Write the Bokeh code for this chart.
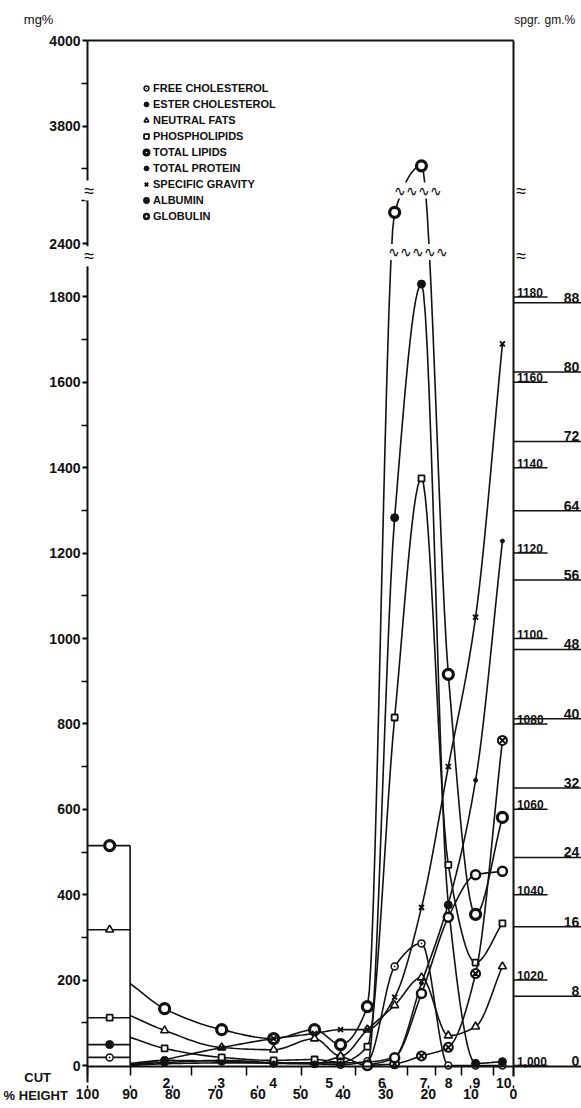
import numpy as np
from bokeh.plotting import figure
from bokeh.models import (Range1d, LinearAxis, FixedTicker, Label, Legend, LegendItem)
from bokeh.embed import file_html
from bokeh.resources import INLINE
from bokeh.core.properties import value

FONT = "Liberation Sans"
INK = "#111111"

# ---------------- data ----------------
# x positions (% height) of the samples: cut 1 (box) then the points of the later cuts
cut_pts = [94.8, 81.9, 68.5, 56.3, 46.7, 40.6, 34.3, 27.9, 21.6, 15.3, 8.9, 2.6]
box_edge = 90  # right side of cut-1 box (% height)
cut_bounds = [100, 90, 75.6, 62.6, 49.8, 37.0, 24.8, 18.3, 12.2, 4.8, 0]
cut_label_pos = [81.5, 68.6, 56.4, 43.3, 30.9, 21.1, 15.2, 8.7, 2.3]
cut_labels = ["2", "3", "4", "5", "6", "7", "8", "9", "10"]
height_ticks = [100, 90, 80, 70, 60, 50, 40, 30, 20, 10, 0]

# lipids, mg%  (first value = cut-1 box level)
free_chol = [19, 7, 12, 7, 4, 2, 10, 232, 286, 0, 0, 0]
ester_chol = [49, 12, 10, 5, 4, 19, 0, 1283, 1830, 376, 5, 9]
neutral_fats = [318, 82, 42, 37, 63, 22, 84, 141, 206, 70, 91, 232]
phospholipids = [112, 40, 19, 12, 14, 8, 44, 815, 1375, 470, 241, 333]
total_lipids = [515, 133, 84, 63, 84, 49, 138, 2473, 3707, 916, 354, 581]
# values where the curves leave the box edge
free_chol_edge = 3
ester_chol_edge = 5
neutral_fats_edge = 117
phospholipids_edge = 66
total_lipids_edge = 192

# proteins (gm%) and specific gravity, None = not drawn
total_protein = [None, 0.2, 0.3, 0.3, 0.3, 0.3, 0.4, 1.0, 9.5, 18.7, 32.9, 60.5]
albumin = [None, None, None, None, None, None, 0.0, 0.2, 1.1, 2.1, 10.6, 37.5]
globulin = [None, None, None, None, None, None, 0.0, 0.9, 8.3, 17.1, 22.0, 22.4]
spec_grav = [None, 1.0014, 1.0042, 1.0063, 1.0075, 1.0084, 1.0084, 1.016, 1.037, 1.070, 1.105, 1.169]
spec_grav_edge = 1.000
total_protein_edge = 0.0

# axes
left_tick_vals = [0, 200, 400, 600, 800, 1000, 1200, 1400, 1600, 1800, 2400, 3800, 4000]
left_minor_vals = [100, 300, 500, 700, 900, 1100, 1300, 1500, 1700, 2500, 3700, 3900]
sg_ticks = [1.000, 1.020, 1.040, 1.060, 1.080, 1.100, 1.120, 1.140, 1.160, 1.180]
sg_labels = ["1,000", "1020", "1040", "1060", "1080", "1100", "1120", "1140", "1160", "1180"]
gm_ticks = [0, 8, 16, 24, 32, 40, 48, 56, 64, 72, 80, 88]
gm_labels = [str(t) for t in gm_ticks]
mg_breaks = [1880, 2524]   # values at the two axis breaks (lower / upper section)

legend_labels = ["FREE CHOLESTEROL", "ESTER CHOLESTEROL", "NEUTRAL FATS", "PHOSPHOLIPIDS",
                 "TOTAL LIPIDS", "TOTAL PROTEIN", "SPECIFIC GRAVITY", "ALBUMIN", "GLOBULIN"]


# broken mg% scale -> plotting units
def mg_to_u(v):
    if v is None:
        return np.nan
    if v >= 3600:
        return v - 1600
    if v >= 2300:
        return v - 475
    return v


def arr(vals):
    return np.array([np.nan if v is None else v for v in vals], dtype=float)


def smooth(xs, ys, per=14):
    """Monotone (Fritsch-Carlson) cubic drawn through the measured points."""
    x = np.asarray(xs, float)
    y = np.asarray(ys, float)
    ok = ~np.isnan(y)
    x, y = x[ok], y[ok]
    o = np.argsort(x)
    x, y = x[o], y[o]
    n = len(x)
    if n < 3:
        return x, y
    h = np.diff(x)
    d = np.diff(y) / h
    m = np.zeros(n)
    for k in range(1, n - 1):
        if d[k - 1] * d[k] > 0:
            w1 = 2 * h[k] + h[k - 1]
            w2 = h[k] + 2 * h[k - 1]
            m[k] = (w1 + w2) / (w1 / d[k - 1] + w2 / d[k])
    m[0], m[-1] = d[0], d[-1]
    t = np.linspace(0, 1, per, endpoint=False)
    h00 = 2 * t**3 - 3 * t**2 + 1
    h10 = t**3 - 2 * t**2 + t
    h01 = -2 * t**3 + 3 * t**2
    h11 = t**3 - t**2
    xs_out, ys_out = [], []
    for k in range(n - 1):
        xs_out.append(x[k] + t * h[k])
        ys_out.append(h00 * y[k] + h10 * h[k] * m[k] + h01 * y[k + 1] + h11 * h[k] * m[k + 1])
    xs_out.append([x[-1]])
    ys_out.append([y[-1]])
    return np.concatenate(xs_out), np.concatenate(ys_out)


# ---------------- layout (frame fills the canvas; axes sit at fixed places) ----------------
W, H = 581, 1108
PX_X = 4.26                  # px per % height
PX_Y = 0.427                 # px per plotting unit
AX_LEFT = 87                 # canvas x of the 100 % line
AX_BASE = 1065               # canvas y of zero
X0 = 100 + AX_LEFT / PX_X
X1 = 100 - (W - AX_LEFT) / PX_X
Y0 = -(H - AX_BASE) / PX_Y
Y1 = AX_BASE / PX_Y
U_TOP = mg_to_u(4000)
GM_PER_U = 20.3
SG_PER_U = 10000.0

p = figure(width=W, height=H, output_backend="svg", toolbar_location=None,
           x_range=Range1d(X0, X1), y_range=Range1d(Y0, Y1),
           x_axis_location=None, y_axis_location=None,
           min_border=0, min_border_left=0, min_border_right=0, min_border_top=0, min_border_bottom=0)
p.outline_line_color = None
p.grid.visible = False
p.background_fill_color = "white"
p.border_fill_color = "white"
p.extra_y_ranges = {
    "gm": Range1d(Y0 / GM_PER_U, Y1 / GM_PER_U),
    "sg": Range1d(1 + Y0 / SG_PER_U, 1 + Y1 / SG_PER_U),
}


def style_labels(ax, size="14px"):
    ax.major_label_text_font = FONT
    ax.major_label_text_font_style = "bold"
    ax.major_label_text_font_size = size
    ax.major_label_text_color = INK


# left axis (mg%)
left_u = [mg_to_u(v) for v in left_tick_vals]
yax = LinearAxis(fixed_location=100, bounds=(-40, U_TOP),
                 ticker=FixedTicker(ticks=left_u, minor_ticks=[mg_to_u(v) for v in left_minor_vals]),
                 major_label_overrides={u: str(v) for u, v in zip(left_u, left_tick_vals)})
yax.axis_line_width = 2
yax.axis_line_color = INK
yax.major_tick_out = 5
yax.major_tick_in = 0
yax.minor_tick_out = 6
yax.minor_tick_in = 0
yax.major_tick_line_width = 2
yax.minor_tick_line_width = 1.5
yax.major_label_standoff = 1
style_labels(yax)
p.add_layout(yax, "left")

# right axis line (no ticks) and top border
rax = LinearAxis(fixed_location=0, bounds=(-25, U_TOP), ticker=FixedTicker(ticks=[]))
rax.axis_line_width = 2
rax.axis_line_color = INK
rax.major_tick_line_color = None
rax.minor_tick_line_color = None
p.add_layout(rax, "right")
tax = LinearAxis(fixed_location=U_TOP, bounds=(0, 100), ticker=FixedTicker(ticks=[]))
tax.axis_line_width = 2
tax.axis_line_color = INK
tax.major_tick_line_color = None
tax.minor_tick_line_color = None
p.add_layout(tax, "above")

# bottom axes: cut numbers, then % height
ax_cut = LinearAxis(fixed_location=-2, bounds=(X1, 100),
                    ticker=FixedTicker(ticks=cut_label_pos, minor_ticks=cut_bounds),
                    major_label_overrides=dict(zip(cut_label_pos, cut_labels)))
ax_cut.axis_line_width = 2
ax_cut.axis_line_color = INK
ax_cut.major_tick_out = 0
ax_cut.major_tick_in = 0
ax_cut.minor_tick_out = 9
ax_cut.minor_tick_in = 0
ax_cut.minor_tick_line_width = 1.5
ax_cut.major_label_standoff = 3
style_labels(ax_cut)
p.add_layout(ax_cut, "below")

ax_h = LinearAxis(fixed_location=-47, bounds=(0, 100),
                  ticker=FixedTicker(ticks=height_ticks, minor_ticks=[]),
                  major_label_overrides={t: str(t) for t in height_ticks})
ax_h.axis_line_color = None
ax_h.major_tick_out = 3
ax_h.major_tick_in = 0
ax_h.major_tick_line_width = 1.5
ax_h.major_label_standoff = 0
style_labels(ax_h)
p.add_layout(ax_h, "below")

# right side scales (spgr and gm%) drawn with their own ranges
p.segment(x0=0, x1=-8, y0=sg_ticks, y1=sg_ticks, y_range_name="sg", line_color=INK, line_width=1.5)
p.text(x=-0.8, y=sg_ticks, text=sg_labels, y_range_name="sg", text_font=value(FONT),
       text_font_style="bold", text_font_size="12px", text_baseline="bottom", text_align="left",
       text_color=INK)
p.segment(x0=0, x1=X1, y0=gm_ticks[1:], y1=gm_ticks[1:], y_range_name="gm",
          line_color=INK, line_width=1.5)
p.text(x=X1 + 0.5, y=gm_ticks, text=gm_labels, y_range_name="gm", text_font=value(FONT),
       text_font_style="bold", text_font_size="14px", text_baseline="bottom", text_align="right",
       text_color=INK)

# ---------------- series ----------------
LW = 1.6
lipids = [
    (free_chol, free_chol_edge, dict(marker="circle_dot", size=7, fill_color="white", line_width=1.5)),
    (ester_chol, ester_chol_edge, dict(marker="circle", size=8, fill_color=INK, line_width=1)),
    (neutral_fats, neutral_fats_edge, dict(marker="triangle", size=8, fill_color="white", line_width=1.6)),
    (phospholipids, phospholipids_edge, dict(marker="square", size=6, fill_color="white", line_width=1.8)),
    (total_lipids, total_lipids_edge, dict(marker="circle", size=10, fill_color="white", line_width=3.2)),
]
renderers = []
for vals, edge, mk in lipids:
    u = [mg_to_u(v) for v in vals]
    p.segment(x0=[100], x1=[box_edge], y0=[u[0]], y1=[u[0]], line_color=INK, line_width=LW)
    cx, cy = smooth([box_edge] + cut_pts[1:], [mg_to_u(edge)] + u[1:])
    p.line(x=cx, y=cy, line_color=INK, line_width=LW)
    r = p.scatter(x=cut_pts, y=u, line_color=INK, **mk)
    renderers.append(r)

# box right edge
p.segment(x0=[box_edge], x1=[box_edge], y0=[0], y1=[mg_to_u(total_lipids[0])], line_color=INK, line_width=LW)

tp = arr(total_protein)
cx, cy = smooth([box_edge] + cut_pts[1:], np.concatenate([[total_protein_edge], tp[1:]]))
p.line(x=cx, y=cy, y_range_name="gm", line_color=INK, line_width=LW)
r_tp = p.scatter(x=cut_pts, y=tp, y_range_name="gm", marker="circle", size=4, fill_color=INK, line_color=INK)
sg = arr(spec_grav)
cx, cy = smooth([box_edge] + cut_pts[1:], np.concatenate([[spec_grav_edge], sg[1:]]))
p.line(x=cx, y=cy, y_range_name="sg", line_color=INK, line_width=LW)
r_sg = p.scatter(x=cut_pts, y=sg, y_range_name="sg", marker="x", size=7, line_width=2, line_color=INK)
alb = arr(albumin)
cx, cy = smooth(cut_pts, alb)
p.line(x=cx, y=cy, y_range_name="gm", line_color=INK, line_width=LW)
r_alb = p.scatter(x=cut_pts, y=alb, y_range_name="gm", marker="circle_x", size=9, line_width=2,
                  fill_color="white", line_color=INK)
glo = arr(globulin)
cx, cy = smooth(cut_pts, glo)
p.line(x=cx, y=cy, y_range_name="gm", line_color=INK, line_width=LW)
r_glo = p.scatter(x=cut_pts, y=glo, y_range_name="gm", marker="circle", size=9, line_width=2.5,
                  fill_color="white", line_color=INK)

renderers += [r_tp, r_sg, r_alb, r_glo]
legend = Legend(items=[LegendItem(label=legend_labels[i], renderers=[renderers[i]]) for i in range(9)],
                location=(140, 884), orientation="vertical")
legend.label_text_font = FONT
legend.label_text_font_style = "bold"
legend.label_text_font_size = "11px"
legend.label_text_color = INK
legend.label_height = 16
legend.glyph_height = 16
legend.glyph_width = 12
legend.label_standoff = 1
legend.spacing = 0
legend.padding = 0
legend.margin = 0
legend.border_line_color = None
legend.background_fill_alpha = 0
p.add_layout(legend, "center")

# ---------------- free texts ----------------
def txt(x, y, text, align="left", size="13px", style="bold", baseline="middle"):
    p.text(x=[x], y=[y], text=[text], text_align=align, text_baseline=baseline,
           text_font=value(FONT), text_font_size=size, text_font_style=style, text_color=INK)

txt(108.0, 2432, "mg%", align="right", size="13px", style="normal", baseline="bottom")
txt(-0.2, 2432, "spgr.", align="left", size="12px", style="normal", baseline="bottom")
txt(-7.3, 2432, "gm.%", align="left", size="12px", style="normal", baseline="bottom")
txt(111.7, -28, "CUT", align="center", size="13px")
txt(104.6, -70, "% HEIGHT", align="right", size="13px")


def brk(x, y, text, size="18px"):
    p.add_layout(Label(x=x, y=y, text=text, text_align="center", text_baseline="middle",
                       text_font=FONT, text_font_size=size, text_color=INK,
                       background_fill_color="white"))

for b in mg_breaks:
    ub = mg_to_u(b) if b > 2000 else b + 15
    brk(99.6, ub, "≈")
    brk(-1.8, ub, "≈")
brk(22.5, mg_to_u(mg_breaks[1]), "∿∿∿∿", size="14px")
brk(22.5, mg_breaks[0] + 25, "∿∿∿∿∿", size="14px")

open("out.html", "w").write(file_html(p, INLINE))
